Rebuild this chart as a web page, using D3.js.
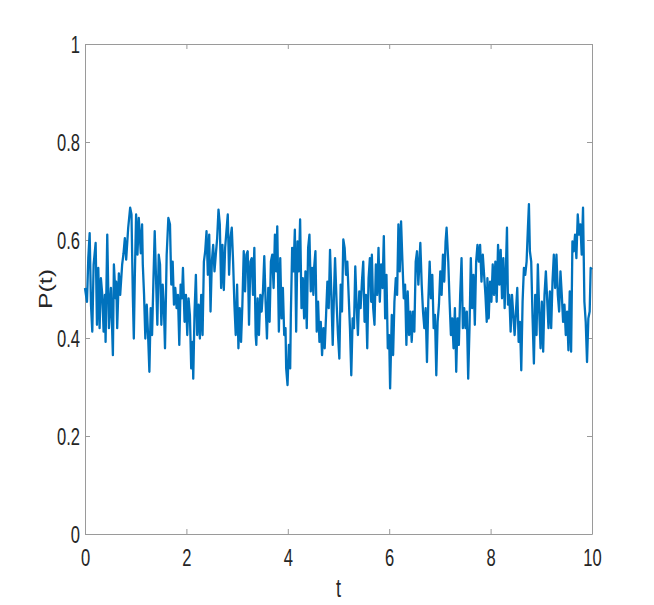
<!DOCTYPE html>
<html lang="en">
  <head>
    <title>P(t)</title>
    <meta charset="utf-8" />
    <script src="https://cdn.jsdelivr.net/npm/d3@7"></script>
    <style>
      body { margin: 0; background: #fff; }
    </style>
  </head>
  <body>
    <svg id="chart" width="654" height="605" viewBox="0 0 654 605"></svg>
    <script>
      // tick labels
      const xTicks = [0, 2, 4, 6, 8, 10];
      const yTicks = [0, 0.2, 0.4, 0.6, 0.8, 1];

      // series
      const times = [
        0, 0.039, 0.065, 0.092, 0.118, 0.144, 0.170, 0.210, 0.236, 0.262, 0.288, 0.314, 0.341, 0.367, 0.393, 0.406, 0.439, 0.472, 0.511, 0.550, 0.570, 0.603, 0.616, 0.635, 0.668, 0.694, 0.733, 0.760, 0.786, 0.812, 0.852, 0.891, 0.917, 0.943, 0.963, 0.982, 1.008, 1.035, 1.061, 1.100, 1.126,
        1.14, 1.165, 1.19, 1.218, 1.244, 1.27, 1.296, 1.323, 1.349, 1.375, 1.401, 1.427, 1.454, 1.48, 1.506, 1.532, 1.558, 1.578, 1.611, 1.644, 1.676, 1.702, 1.729, 1.755, 1.781, 1.807, 1.833, 1.86, 1.886, 1.912, 1.932, 1.964, 1.991, 2.017, 2.043, 2.069, 2.095, 2.122, 2.135, 2.161, 2.187, 2.213,
        2.24, 2.266, 2.292, 2.319, 2.345, 2.371, 2.397, 2.423, 2.45, 2.476, 2.502, 2.528, 2.554, 2.58, 2.607, 2.633, 2.659, 2.685, 2.711, 2.738, 2.764, 2.79, 2.816, 2.842, 2.869, 2.895, 2.921, 2.947, 2.973, 3.0, 3.026, 3.052, 3.078, 3.104, 3.131, 3.157, 3.183, 3.209, 3.235, 3.262, 3.288, 3.314, 3.34, 3.366,
        3.379, 3.405, 3.431, 3.458, 3.484, 3.51, 3.536, 3.562, 3.589, 3.615, 3.641, 3.667, 3.693, 3.72, 3.746, 3.772, 3.792, 3.824, 3.851, 3.877, 3.903, 3.929, 3.955, 3.968, 3.995, 4.021, 4.047, 4.06, 4.086, 4.112, 4.139, 4.165, 4.191, 4.217, 4.243, 4.27, 4.296, 4.322, 4.348, 4.374, 4.401, 4.427, 4.453, 4.479, 4.505,
        4.519, 4.545, 4.571, 4.597, 4.624, 4.65, 4.676, 4.702, 4.728, 4.755, 4.781, 4.807, 4.833, 4.859, 4.886, 4.912, 4.932, 4.964, 4.99, 5.017, 5.043, 5.069, 5.095, 5.121, 5.148, 5.174, 5.2, 5.226, 5.252, 5.279, 5.305, 5.331, 5.357, 5.383, 5.41, 5.436, 5.462, 5.488, 5.514, 5.541, 5.567, 5.593, 5.619, 5.645,
        5.658, 5.684, 5.71, 5.737, 5.763, 5.789, 5.815, 5.841, 5.868, 5.894, 5.92, 5.946, 5.972, 5.999, 6.018, 6.051, 6.077, 6.103, 6.13, 6.156, 6.182, 6.208, 6.234, 6.261, 6.287, 6.313, 6.339, 6.365, 6.392, 6.418, 6.444, 6.47, 6.496, 6.523, 6.549, 6.575, 6.614, 6.641, 6.667, 6.693, 6.719, 6.745, 6.771,
        6.798, 6.824, 6.85, 6.877, 6.903, 6.929, 6.955, 6.981, 7.008, 7.034, 7.06, 7.086, 7.112, 7.132, 7.165, 7.191, 7.217, 7.243, 7.269, 7.296, 7.322, 7.348, 7.374, 7.4, 7.427, 7.453, 7.479, 7.505, 7.531, 7.558, 7.584, 7.61, 7.636, 7.662, 7.689, 7.715, 7.741, 7.767, 7.793, 7.82, 7.846, 7.872, 7.898, 7.924,
        7.937, 7.963, 7.989, 8.016, 8.042, 8.068, 8.094, 8.12, 8.147, 8.173, 8.199, 8.225, 8.251, 8.277, 8.304, 8.323, 8.343, 8.369, 8.395, 8.422, 8.448, 8.474, 8.5, 8.526, 8.553, 8.579, 8.605, 8.631, 8.657, 8.683, 8.71, 8.736, 8.756, 8.775, 8.801, 8.828, 8.854, 8.88, 8.906, 8.932, 8.959, 8.985, 9.011, 9.037, 9.063, 9.09,
        9.142, 9.169, 9.195, 9.221, 9.247, 9.273, 9.299, 9.326, 9.352, 9.378, 9.404, 9.43, 9.457, 9.483, 9.509, 9.535, 9.561, 9.588, 9.614, 9.64, 9.666, 9.692, 9.719, 9.745, 9.771, 9.797, 9.823, 9.85, 9.876, 9.902, 9.928, 9.954, 9.974, 10
      ];
      const probs = [
        0.502, 0.474, 0.563, 0.614, 0.468, 0.413, 0.550, 0.594, 0.427, 0.543, 0.420, 0.522, 0.488, 0.413, 0.488, 0.392, 0.611, 0.420, 0.502, 0.365, 0.550, 0.481, 0.515, 0.420, 0.532, 0.488, 0.550, 0.573, 0.604, 0.560, 0.625, 0.666, 0.652, 0.488, 0.399, 0.522, 0.652, 0.570, 0.645, 0.573, 0.632,
        0.550, 0.488, 0.399, 0.468, 0.406, 0.331, 0.461, 0.406, 0.515, 0.618, 0.522, 0.427, 0.570, 0.550, 0.427, 0.509, 0.454, 0.379, 0.570, 0.645, 0.632, 0.509, 0.556, 0.468, 0.502, 0.461, 0.488, 0.386, 0.509, 0.481, 0.543, 0.433, 0.488, 0.406, 0.481, 0.447, 0.338, 0.392, 0.317, 0.454, 0.529, 0.406,
        0.468, 0.399, 0.488, 0.406, 0.556, 0.577, 0.618, 0.529, 0.611, 0.454, 0.556, 0.590, 0.536, 0.570, 0.604, 0.662, 0.632, 0.502, 0.590, 0.498, 0.584, 0.618, 0.652, 0.529, 0.604, 0.625, 0.556, 0.468, 0.406, 0.509, 0.379, 0.461, 0.392, 0.468, 0.577, 0.495, 0.570, 0.577, 0.427, 0.556, 0.563, 0.488, 0.584, 0.406,
        0.386, 0.481, 0.406, 0.488, 0.454, 0.495, 0.567, 0.474, 0.399, 0.502, 0.433, 0.556, 0.570, 0.502, 0.611, 0.536, 0.628, 0.413, 0.563, 0.440, 0.502, 0.406, 0.420, 0.338, 0.304, 0.386, 0.338, 0.447, 0.584, 0.536, 0.621, 0.413, 0.597, 0.536, 0.642, 0.461, 0.522, 0.440, 0.536, 0.420, 0.584, 0.611, 0.495, 0.543, 0.488,
        0.543, 0.577, 0.413, 0.474, 0.392, 0.433, 0.365, 0.420, 0.379, 0.447, 0.515, 0.461, 0.580, 0.488, 0.386, 0.495, 0.563, 0.468, 0.406, 0.358, 0.509, 0.454, 0.601, 0.584, 0.529, 0.556, 0.488, 0.420, 0.324, 0.440, 0.420, 0.546, 0.468, 0.406, 0.495, 0.461, 0.515, 0.556, 0.433, 0.488, 0.379, 0.522, 0.563, 0.474,
        0.570, 0.461, 0.427, 0.550, 0.488, 0.584, 0.474, 0.550, 0.502, 0.608, 0.440, 0.529, 0.379, 0.406, 0.297, 0.447, 0.365, 0.474, 0.522, 0.488, 0.632, 0.536, 0.638, 0.556, 0.481, 0.509, 0.386, 0.495, 0.406, 0.454, 0.392, 0.454, 0.413, 0.556, 0.577, 0.509, 0.594, 0.509, 0.454, 0.420, 0.461, 0.351, 0.474,
        0.556, 0.481, 0.529, 0.420, 0.447, 0.324, 0.433, 0.468, 0.536, 0.488, 0.570, 0.515, 0.597, 0.625, 0.556, 0.474, 0.406, 0.440, 0.379, 0.461, 0.331, 0.440, 0.386, 0.488, 0.563, 0.420, 0.461, 0.420, 0.454, 0.317, 0.420, 0.563, 0.461, 0.529, 0.427, 0.556, 0.590, 0.556, 0.590, 0.515, 0.570, 0.529, 0.488, 0.433,
        0.522, 0.440, 0.515, 0.474, 0.550, 0.488, 0.556, 0.474, 0.590, 0.509, 0.580, 0.481, 0.563, 0.461, 0.550, 0.625, 0.468, 0.488, 0.413, 0.488, 0.447, 0.406, 0.454, 0.502, 0.392, 0.433, 0.334, 0.474, 0.543, 0.529, 0.556, 0.625, 0.673, 0.577, 0.556, 0.440, 0.348, 0.488, 0.406, 0.550, 0.454, 0.379, 0.474, 0.372, 0.488, 0.536,
        0.420, 0.495, 0.420, 0.515, 0.570, 0.502, 0.570, 0.488, 0.454, 0.536, 0.488, 0.433, 0.468, 0.406, 0.454, 0.375, 0.495, 0.372, 0.597, 0.577, 0.611, 0.563, 0.652, 0.611, 0.632, 0.570, 0.666, 0.474, 0.433, 0.351, 0.440, 0.454, 0.543, 0.54
      ];

      const data = times.map((t, i) => ({ t: t, p: probs[i] }));

      var margin = { top: 44, right: 62, bottom: 71, left: 85 };
      var svg = d3.select("#chart");
      var width = +svg.attr("width");
      var height = +svg.attr("height");
      var innerWidth = width - margin.left - margin.right;
      var innerHeight = height - margin.top - margin.bottom;

      // text in the picture is squeezed sideways
      const squeeze = 0.72;
      const fontFamily = "'Liberation Sans', Arial, sans-serif";
      const textColor = "#262626";
      const axisColor = "#9a9a9a";

      var g = svg.append("g")
        .attr("transform", `translate(${margin.left}, ${margin.top})`);

      const x = d3.scaleLinear().domain([0, 10]).range([0, innerWidth]);
      const y = d3.scaleLinear().domain([0, 1]).range([innerHeight, 0]);

      // box axes, ticks pointing inward
      const axisB = g.append("g")
        .attr("transform", `translate(0, ${innerHeight})`)
        .call(d3.axisBottom(x).tickValues(xTicks).tickSize(-5).tickSizeOuter(0).tickFormat((d) => String(d)));
      const axisL = g.append("g")
        .call(d3.axisLeft(y).tickValues(yTicks).tickSize(-5).tickSizeOuter(0).tickFormat((d) => String(d)));
      const axisT = g.append("g")
        .call(d3.axisTop(x).tickValues(xTicks).tickSize(-5).tickSizeOuter(0).tickFormat(""));
      const axisR = g.append("g")
        .attr("transform", `translate(${innerWidth}, 0)`)
        .call(d3.axisRight(y).tickValues(yTicks).tickSize(-5).tickSizeOuter(0).tickFormat(""));

      [axisB, axisL, axisT, axisR].forEach((a) => {
        a.select(".domain").attr("stroke", axisColor);
        a.selectAll(".tick line").attr("stroke", axisColor);
      });

      axisB.selectAll("text")
        .attr("y", 32)
        .attr("dy", 0)
        .attr("transform", `scale(${squeeze},1)`)
        .attr("fill", textColor)
        .attr("font-family", fontFamily)
        .attr("font-size", "23px");

      axisL.selectAll("text")
        .attr("x", -5 / squeeze)
        .attr("dy", "0.36em")
        .attr("text-anchor", "end")
        .attr("transform", `scale(${squeeze},1)`)
        .attr("fill", textColor)
        .attr("font-family", fontFamily)
        .attr("font-size", "23px");

      // the series
      const line = d3.line()
        .x((d) => x(d.t))
        .y((d) => y(d.p));

      g.append("path")
        .datum(data)
        .attr("fill", "none")
        .attr("stroke", "#0072BD")
        .attr("stroke-width", 2.3)
        .attr("stroke-linejoin", "round")
        .attr("d", line);

      // axis labels
      svg.append("text")
        .attr("transform", `translate(${margin.left + innerWidth / 2}, 597) scale(${squeeze},1)`)
        .attr("text-anchor", "middle")
        .attr("fill", textColor)
        .attr("font-family", fontFamily)
        .attr("font-size", "25px")
        .text("t");

      svg.append("text")
        .attr("transform", `translate(52, ${margin.top + innerHeight / 2}) scale(${squeeze},1) rotate(-90)`)
        .attr("text-anchor", "middle")
        .attr("fill", textColor)
        .attr("font-family", fontFamily)
        .attr("font-size", "25px")
        .text("P(t)");
    </script>
  </body>
</html>
